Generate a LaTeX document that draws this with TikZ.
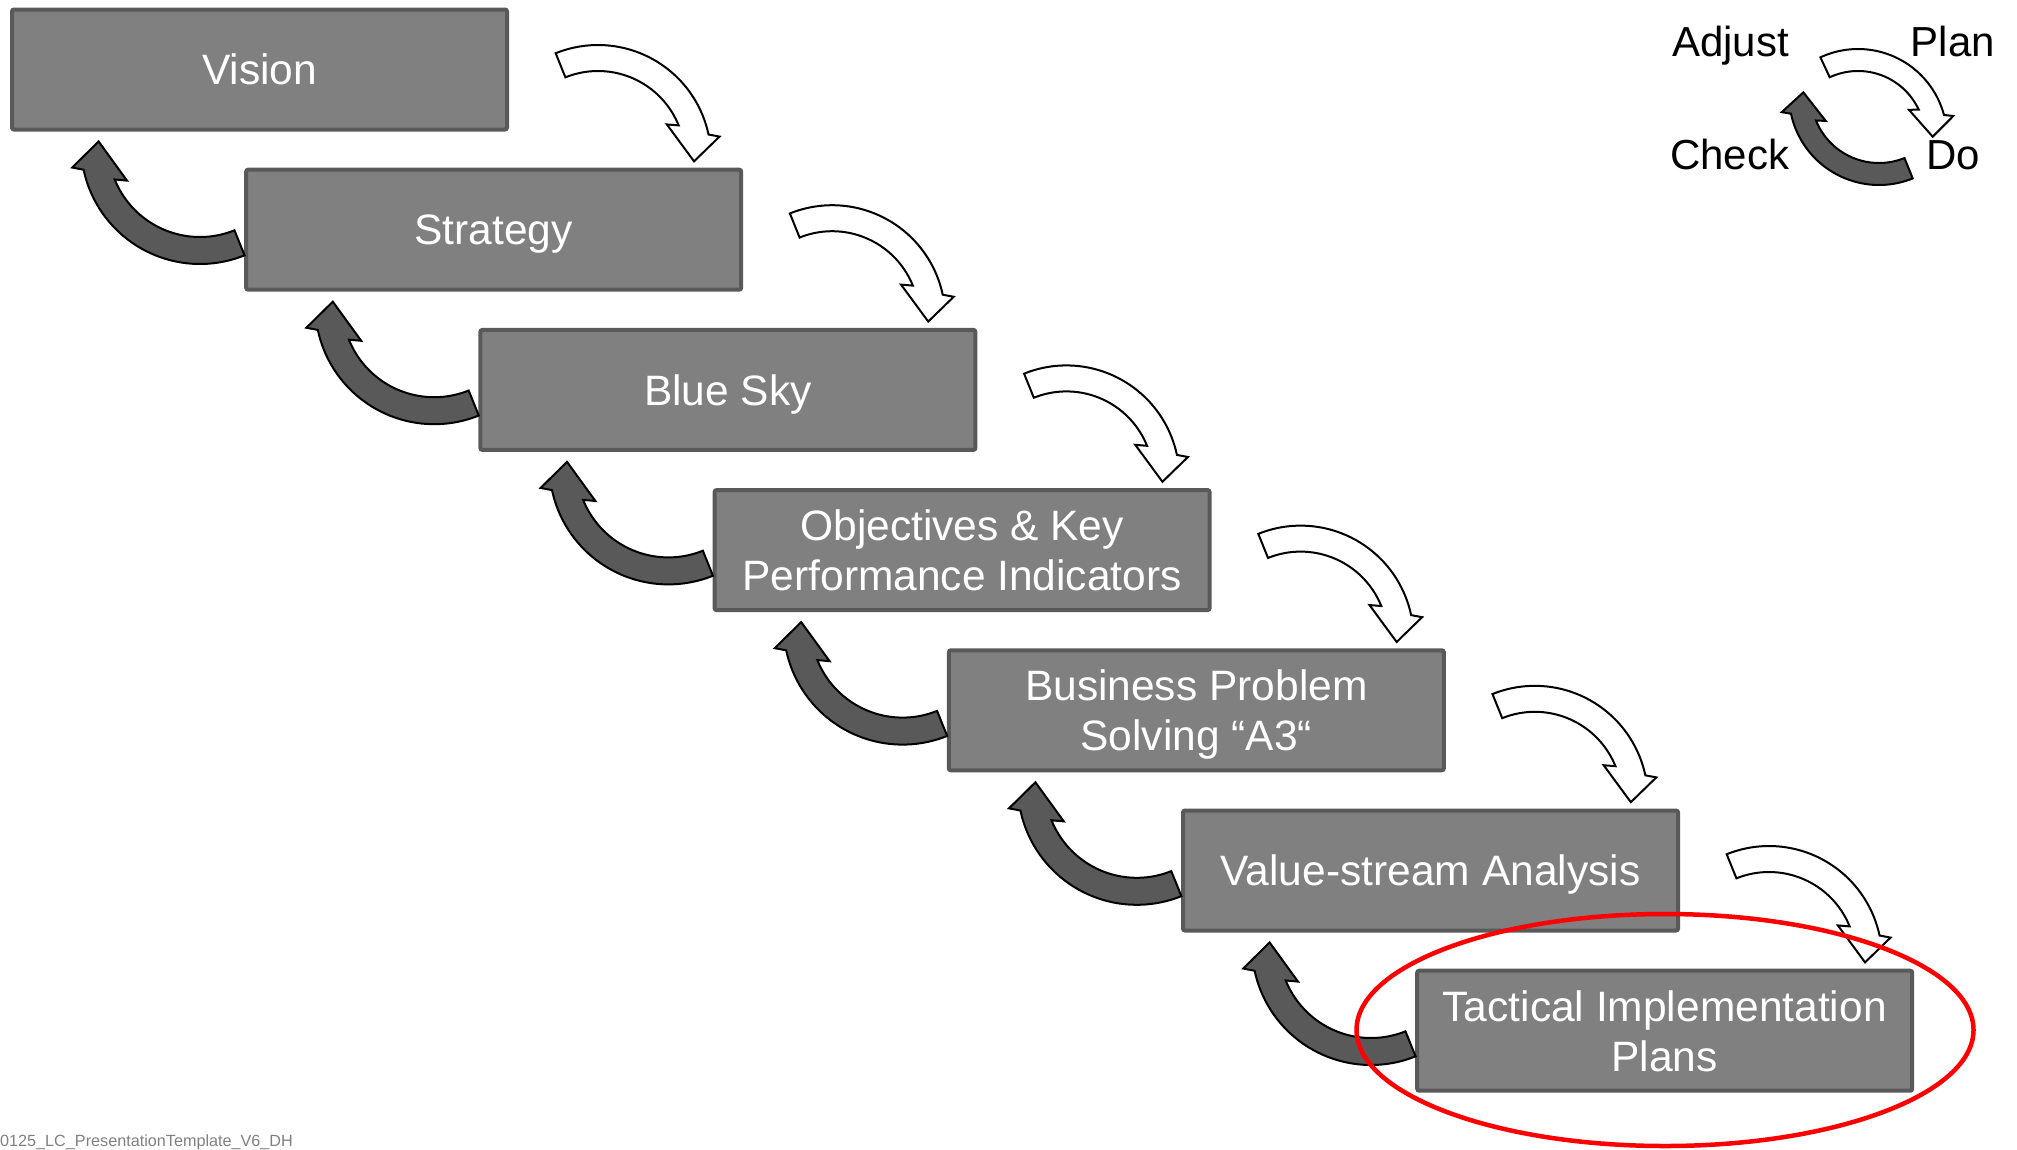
\documentclass[tikz,border=0pt]{standalone}
\usepackage{fontspec}
\setmainfont{Liberation Sans}
\usetikzlibrary{shapes.geometric}

\definecolor{boxfill}{RGB}{128,128,128}
\definecolor{boxline}{RGB}{89,89,89}
\definecolor{backfill}{RGB}{89,89,89}
\definecolor{footgray}{RGB}{128,128,128}

% Thick curved block arrow: a ring segment swept clockwise from angle #4,
% outer radius #5, inner radius #6, centred at (#2,#3) relative to #1.
\newcommand{\bendarrow}[7]{%
  \begin{scope}[shift={(#1)}]
    \pgfmathsetmacro{\baEnd}{#4+100}
    \pgfmathsetmacro{\baNotch}{#4+90}
    \pgfmathsetmacro{\baW}{#5-#6}
    \pgfmathsetmacro{\baOut}{#5+0.4*\baW}
    \pgfmathsetmacro{\baIn}{#6-0.4*\baW}
    \pgfmathsetmacro{\baTip}{(#5+#6)/2-0.15*\baW}
    \filldraw[blockarrow, fill=#7]
      plot[domain=#4:\baEnd, samples=40] ({#2+#5*cos(\x)},{#3+#5*sin(\x)})
      -- ({#2+\baOut*cos(#4+102)},{#3+\baOut*sin(#4+102)})
      -- ({#2+\baTip*cos(#4+114)},{#3+\baTip*sin(#4+114)})
      -- ({#2+\baIn*cos(#4+86)},{#3+\baIn*sin(#4+86)})
      -- ({#2+#6*cos(\baNotch)},{#3+#6*sin(\baNotch)})
      -- plot[domain=\baNotch:#4, samples=40] ({#2+#6*cos(\x)},{#3+#6*sin(\x)})
      -- cycle;
  \end{scope}}

\tikzset{
  stage/.style={draw=boxline, fill=boxfill, line width=4pt, rounded corners=2pt,
    minimum width=495pt, minimum height=120pt, inner sep=0pt, outer sep=0pt,
    text depth=0pt, text=white, align=center, font=\fontsize{42.5}{50}\selectfont},
  blockarrow/.style={draw=black, line width=2pt, line join=miter},
  cyclelabel/.style={inner sep=0pt, font=\fontsize{42}{50}\selectfont},
}

\begin{document}
\begin{tikzpicture}[x=1pt, y=-1pt]
  \useasboundingbox (0,0) rectangle (2017,1149);
  \coordinate (O) at (0,0);

  % cascade of stages
  \node[stage] (vision)   at (259.5,69.5)   {Vision};
  \node[stage] (strategy) at (493.7,229.7)  {Strategy};
  \node[stage] (bluesky)  at (727.9,389.9)  {Blue Sky};
  \node[stage] (okr)      at (962.1,550.1)  {Objectives \& Key\\Performance Indicators};
  \node[stage] (bps)      at (1196.3,710.3) {Business Problem\\Solving “A3“};
  \node[stage] (vsa)      at (1430.5,870.5) {Value-stream Analysis};
  \node[stage] (tip)      at (1664.7,1030.7){Tactical Implementation\\Plans};

  % forward arrows (white), from each stage down to the next
  \foreach \s in {vision,strategy,bluesky,okr,bps,vsa}
    \bendarrow{\s.north east}{91}{148.5}{-112}{113}{87}{white};

  % feedback arrows (dark), from each stage back up to the previous
  \foreach \s in {strategy,bluesky,okr,bps,vsa,tip}
    \bendarrow{\s.north west}{-46.2}{-24.7}{68}{119}{92}{backfill};

  % PDCA cycle legend
  \node[cyclelabel, anchor=base west] (adjust) at (1672,56)  {Adjust};
  \node[cyclelabel, anchor=base east] (plan)   at (1995,56)  {Plan};
  \node[cyclelabel, anchor=base west] (check)  at (1670,169) {Check};
  \node[cyclelabel, anchor=base west] (do)     at (1926,169) {Do};
  \bendarrow{O}{1858}{138}{-115}{89}{67}{white};
  \bendarrow{O}{1879}{95}{68}{90}{68}{backfill};

  % highlight of the last stage
  \node[ellipse, draw=red, line width=4.5pt, minimum width=617pt,
        minimum height=232pt, inner sep=0pt] (focus) at (1665,1030) {};

  % file reference
  \node[anchor=base west, inner sep=0pt, text=footgray,
        font=\fontsize{16.2}{19}\selectfont] (footer) at (0,1146)
        {0125\_LC\_PresentationTemplate\_V6\_DH};
\end{tikzpicture}
\end{document}
